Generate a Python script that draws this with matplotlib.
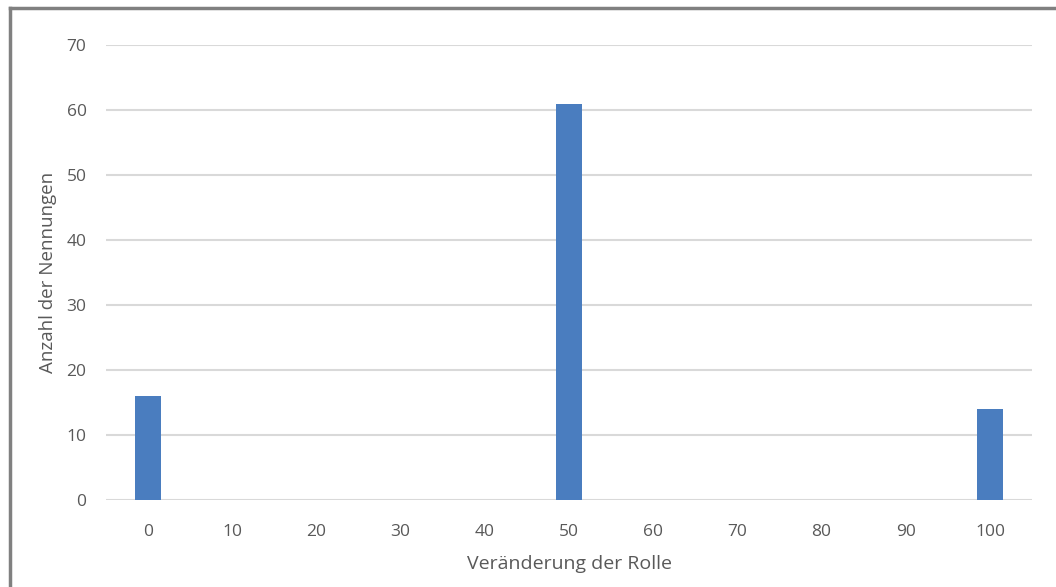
import matplotlib
matplotlib.use("Agg")
import matplotlib.pyplot as plt
from matplotlib.lines import Line2D
import numpy as np

# data
categories = ["0", "10", "20", "30", "40", "50", "60", "70", "80", "90", "100"]
counts = [16, 0, 0, 0, 0, 61, 0, 0, 0, 0, 14]

plt.rcParams["font.family"] = ["Open Sans", "DejaVu Sans"]

fig = plt.figure(figsize=(10.56, 5.87), dpi=100)
ax = fig.add_axes([0.1004, 0.1482, 0.8769, 0.7751])

xpos = np.arange(len(categories))
ax.bar(xpos, counts, width=0.31, color="#4a7dbf", zorder=3)

ax.set_xlim(-0.5, len(categories) - 0.5)
ax.set_ylim(0, 70)
ax.set_yticks(np.arange(0, 71, 10))
ax.set_xticks(xpos)
ax.set_xticklabels(categories)

ax.grid(axis="y", color="#d9d9d9", linewidth=1.5, zorder=0)
for s in ax.spines.values():
    s.set_visible(False)
ax.tick_params(axis="both", length=0, labelsize=12.5, labelcolor="#595959")
ax.tick_params(axis="x", pad=17)
ax.tick_params(axis="y", pad=14)

ax.set_xlabel("Veränderung der Rolle", fontsize=14, color="#595959", labelpad=11)
ax.set_ylabel("Anzahl der Nennungen", fontsize=13.5, color="#595959", labelpad=7)

# frame of the figure (left and top edge)
fig.add_artist(Line2D([10 / 1056, 10 / 1056], [0, 1 - 8 / 587], color="#808080", linewidth=2.5))
fig.add_artist(Line2D([10 / 1056, 1], [1 - 8 / 587, 1 - 8 / 587], color="#808080", linewidth=2.5))

fig.savefig("out.png", dpi=100)
